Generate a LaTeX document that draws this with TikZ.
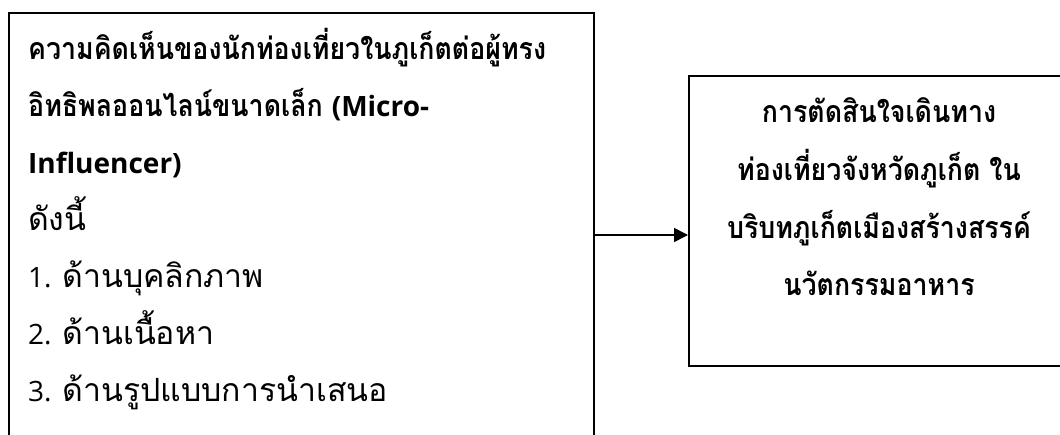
\documentclass[tikz,border=0pt]{standalone}
\usepackage{fontspec}
\setmainfont{Loma}[Script=Thai,BoldFeatures={FakeStretch=0.88}]
\newfontfamily\latinfont{Open Sans}
\usepackage{tikz}
\usetikzlibrary{arrows.meta,positioning,calc}

% latin runs in a separate face, a bit smaller than the thai
\newcommand{\lat}[1]{{\latinfont\fontsize{28}{57}\selectfont #1}}

\tikzset{
  panel/.style={draw,line width=1.6pt,minimum width=#1,inner sep=0pt},
  body/.style={font=\fontsize{32}{57}\selectfont,inner sep=0pt},
  heading/.style={font=\bfseries\fontsize{30.4}{57}\selectfont,inner sep=0pt},
  link/.style={line width=1.6pt,-{Triangle[length=14pt,width=14pt]}}
}

\begin{document}
\begin{tikzpicture}[x=1pt,y=-1pt]
  \useasboundingbox (0,0) rectangle (1060,435);
  \clip (0,0) rectangle (1060,435);

  % left box, runs off the bottom
  \node[panel=585pt,minimum height=470pt,anchor=north west] (opinion) at (8,12) {};
  \foreach \line [count=\i] in {ความคิดเห็นของนักท่องเที่ยวในภูเก็ตต่อผู้ทรง,
      อิทธิพลออนไลน์ขนาดเล็ก \lat{(Micro-}, \lat{Influencer)}}
    \node[heading,anchor=base west] (opinion-\i) at (28,60+57*\i-57) {\line};
  \foreach \line [count=\i from 4] in {ดังนี้, \lat{1.}\ ด้านบุคลิกภาพ,
      \lat{2.}\ ด้านเนื้อหา, \lat{3.}\ ด้านรูปแบบการนำเสนอ}
    \node[body,anchor=base west] (opinion-\i) at (28,60+57*\i-57) {\line};

  % right box, one node per line
  \node[panel=383pt,minimum height=290pt,anchor=north west] (decision) at (688,75) {};
  \foreach \line [count=\i] in {การตัดสินใจเดินทาง, ท่องเที่ยวจังหวัดภูเก็ต ใน,
      บริบทภูเก็ตเมืองสร้างสรรค์, นวัตกรรมอาหาร}
    \node[heading,anchor=base] (decision-\i) at (879,123+57.6*\i-57.6) {\line};

  % connector
  \coordinate (split) at (opinion.east |- 0,235);
  \draw[link] (split) -- (split -| decision.west);
\end{tikzpicture}
\end{document}
